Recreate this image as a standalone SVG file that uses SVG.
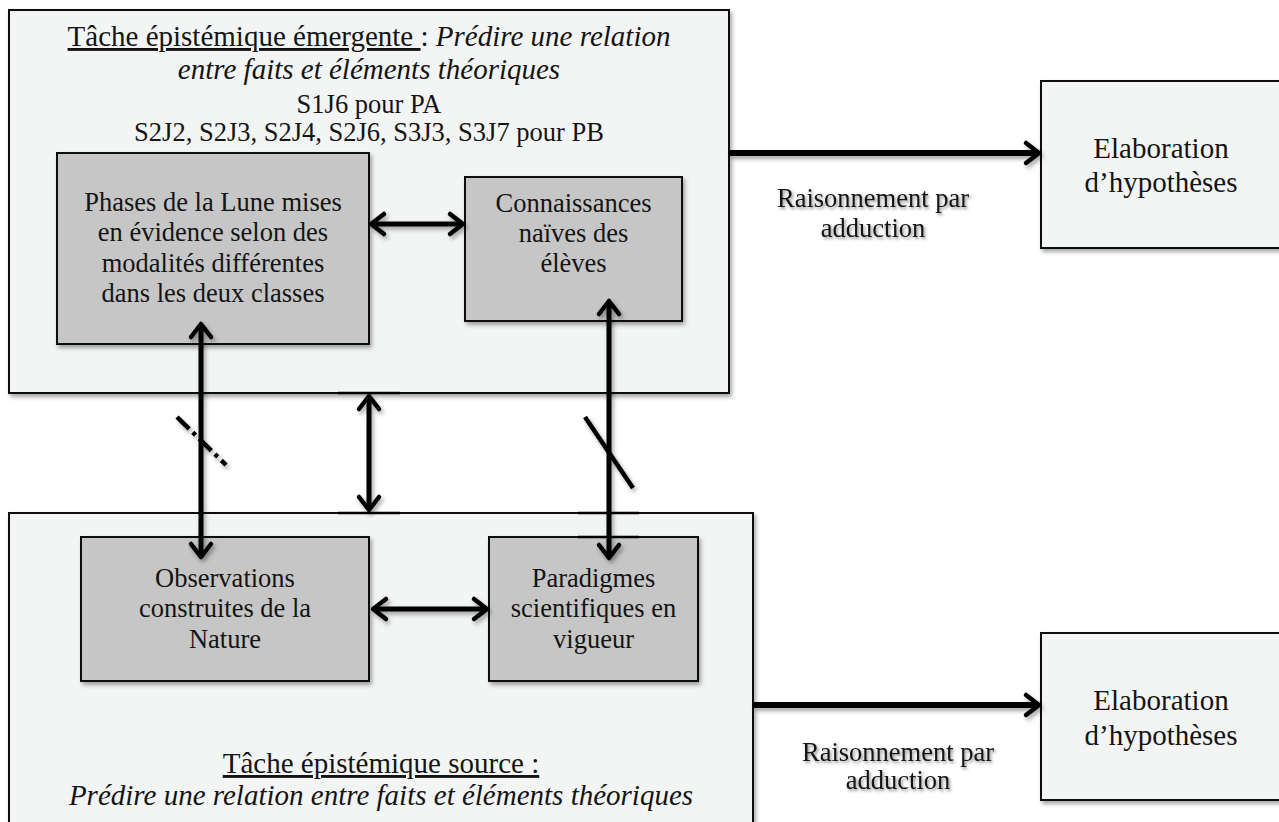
<svg xmlns="http://www.w3.org/2000/svg" width="1279" height="822" viewBox="0 0 1279 822">
<defs>
<style>
.outer{fill:#f3f5f5;stroke:#111;stroke-width:2}
.inner{fill:#c6c6c6;stroke:#111;stroke-width:2}
.t29{font-family:"Liberation Serif","Times New Roman",serif;font-size:29px;fill:#141414}
.t26{font-family:"Liberation Serif","Times New Roman",serif;font-size:26.5px;fill:#141414}
.mid{text-anchor:middle}
.it{font-style:italic}
.ul{text-decoration:underline}
.con{fill:none;stroke:#000;stroke-width:5}
.thick{stroke-width:6}
.seg{stroke:#000;stroke-width:2.5}
</style>
<filter id="sh" x="-10%" y="-10%" width="130%" height="130%">
<feDropShadow dx="2" dy="3" stdDeviation="2" flood-color="#000" flood-opacity="0.35"/>
</filter>
<filter id="tsh" x="-10%" y="-20%" width="130%" height="160%">
<feDropShadow dx="1.5" dy="2" stdDeviation="1.5" flood-color="#000" flood-opacity="0.45"/>
</filter>
<marker id="ah" viewBox="-20 -14 24 28" refX="0" refY="0" markerWidth="24" markerHeight="28" markerUnits="userSpaceOnUse" orient="auto-start-reverse">
<path d="M-13,-10 L0,0 L-13,10" fill="none" stroke="#000" stroke-width="4.5" stroke-linecap="round" stroke-linejoin="round"/>
</marker>
</defs>
<rect width="1279" height="822" fill="#fff"/>

<g id="tache-emergente">
<rect class="outer" x="9" y="10" width="720" height="383" filter="url(#sh)"/>
<text class="t29 mid" x="369" y="46"><tspan class="ul">Tâche épistémique émergente </tspan>: <tspan class="it">Prédire une relation</tspan></text>
<text class="t29 mid it" x="369" y="79">entre faits et éléments théoriques</text>
<text class="t26 mid" x="369" y="113">S1J6 pour PA</text>
<text class="t26 mid" x="369" y="141">S2J2, S2J3, S2J4, S2J6, S3J3, S3J7 pour PB</text>
</g>

<g id="tache-source">
<rect class="outer" x="9" y="513" width="744" height="320" filter="url(#sh)"/>
<text class="t29 mid ul" x="381" y="773">Tâche épistémique source :</text>
<text class="t29 mid it" x="381" y="805">Prédire une relation entre faits et éléments théoriques</text>
</g>

<g id="phases">
<rect class="inner" x="57" y="153" width="312" height="191" filter="url(#sh)"/>
<text class="t26 mid" x="213" y="211">Phases de la Lune mises</text>
<text class="t26 mid" x="213" y="241">en évidence selon des</text>
<text class="t26 mid" x="213" y="272">modalités différentes</text>
<text class="t26 mid" x="213" y="302">dans les deux classes</text>
</g>

<g id="connaissances">
<rect class="inner" x="465" y="177" width="217" height="144" filter="url(#sh)"/>
<text class="t26 mid" x="573.5" y="212">Connaissances</text>
<text class="t26 mid" x="573.5" y="242">naïves des</text>
<text class="t26 mid" x="573.5" y="272">élèves</text>
</g>

<g id="observations">
<rect class="inner" x="81" y="537" width="288" height="144" filter="url(#sh)"/>
<text class="t26 mid" x="225" y="587">Observations</text>
<text class="t26 mid" x="225" y="617">construites de la</text>
<text class="t26 mid" x="225" y="648">Nature</text>
</g>

<g id="paradigmes">
<rect class="inner" x="489" y="537" width="209" height="144" filter="url(#sh)"/>
<text class="t26 mid" x="593.5" y="587">Paradigmes</text>
<text class="t26 mid" x="593.5" y="617">scientifiques en</text>
<text class="t26 mid" x="593.5" y="648">vigueur</text>
</g>

<g id="elaboration-1">
<rect class="outer" x="1041" y="81" width="240" height="167" filter="url(#sh)"/>
<text class="t29 mid" x="1161" y="158">Elaboration</text>
<text class="t29 mid" x="1161" y="192">d’hypothèses</text>
</g>

<g id="elaboration-2">
<rect class="outer" x="1041" y="633" width="240" height="167" filter="url(#sh)"/>
<text class="t29 mid" x="1161" y="710">Elaboration</text>
<text class="t29 mid" x="1161" y="745">d’hypothèses</text>
</g>

<g id="labels" filter="url(#tsh)">
<text class="t26 mid" x="873" y="207">Raisonnement par</text>
<text class="t26 mid" x="873" y="237">adduction</text>
<text class="t26 mid" x="898" y="761">Raisonnement par</text>
<text class="t26 mid" x="898" y="789">adduction</text>
</g>

<g id="connectors">
<g filter="url(#sh)">
<line class="con" x1="371" y1="224" x2="463" y2="224" marker-start="url(#ah)" marker-end="url(#ah)"/>
<line class="con" x1="201" y1="324" x2="201" y2="557" marker-start="url(#ah)" marker-end="url(#ah)"/>
<line class="con" x1="609" y1="301" x2="609" y2="558" marker-start="url(#ah)" marker-end="url(#ah)"/>
<line class="con" x1="369" y1="396" x2="369" y2="510" marker-start="url(#ah)" marker-end="url(#ah)"/>
<line class="con" x1="373" y1="609" x2="487" y2="609" marker-start="url(#ah)" marker-end="url(#ah)"/>
<line class="con thick" x1="729" y1="153" x2="1039" y2="153" marker-end="url(#ah)"/>
<line class="con thick" x1="753" y1="705" x2="1039" y2="705" marker-end="url(#ah)"/>
<line x1="177" y1="417" x2="226" y2="465" stroke="#000" stroke-width="4.5" stroke-dasharray="17 5 4 5"/>
<line x1="585" y1="417" x2="633" y2="488" stroke="#000" stroke-width="4.5"/>
</g>
<line class="seg" x1="338" y1="393" x2="400" y2="393"/>
<line class="seg" x1="338" y1="513" x2="400" y2="513"/>
<line class="seg" x1="578" y1="513" x2="639" y2="513"/>
<line class="seg" x1="578" y1="537" x2="639" y2="537"/>
</g>
</svg>
